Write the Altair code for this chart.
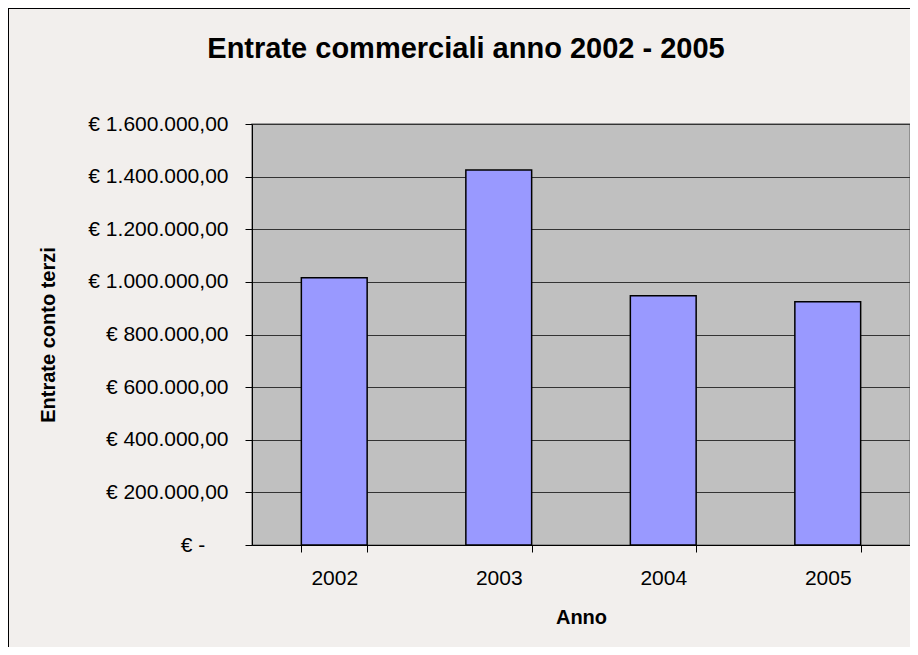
import altair as alt
import pandas as pd

title_text = "Entrate commerciali anno 2002 - 2005"
years = ["2002", "2003", "2004", "2005"]
values = [1016000, 1425000, 947000, 924000]
y_ticks = [0, 200000, 400000, 600000, 800000, 1000000, 1200000, 1400000, 1600000]

df = pd.DataFrame({"Anno": years, "Entrate": values})

W, H = 658, 421
PAD = {"left": 244, "top": 116, "right": 0, "bottom": 102}
FONT = "Liberation Sans"

zero_label = "€ -" + "\u00a0" * 4 + "\u200b"
label_expr = (
    "datum.value == 0 ? '" + zero_label + "' : "
    "'€ ' + replace(replace(replace(format(datum.value, ',.2f'), regexp(',', 'g'), '#'), "
    "regexp('[.]', 'g'), ','), regexp('#', 'g'), '.')"
)

bars = alt.Chart(df).mark_bar(
    color="#9999ff", stroke="#000000", strokeWidth=1.5
).encode(
    x=alt.X(
        "Anno:N",
        sort=years,
        scale=alt.Scale(paddingInner=0.6, paddingOuter=0.3),
        axis=alt.Axis(
            title="Anno",
            labelAngle=0,
            grid=False,
            tickBand="extent",
            tickSize=7,
            tickColor="#000000",
            domainColor="#000000",
            labelFontSize=21,
            labelPadding=15,
            labelColor="#000000",
            labelFont=FONT,
            titleFont=FONT,
            titleFontSize=20,
            titleFontWeight="bold",
            titleColor="#000000",
            titleY=62,
        ),
    ),
    y=alt.Y(
        "Entrate:Q",
        scale=alt.Scale(domain=[0, 1600000], nice=False),
        axis=alt.Axis(
            title="Entrate conto terzi",
            values=y_ticks,
            labelExpr=label_expr,
            grid=True,
            gridColor="#333333",
            gridWidth=1,
            tickSize=7,
            tickColor="#000000",
            domainColor="#000000",
            labelFontSize=21,
            labelPadding=17,
            labelColor="#000000",
            labelFont=FONT,
            titleFont=FONT,
            titleFontSize=20,
            titleFontWeight="bold",
            titleColor="#000000",
            titleX=-194,
            titleY=H / 2,
        ),
    ),
)

title_mark = alt.Chart(pd.DataFrame({"t": [title_text]})).mark_text(
    font=FONT, fontSize=29, fontWeight="bold", color="#000000",
    align="center", baseline="middle"
).encode(
    text="t:N", x=alt.value(214), y=alt.value(-75)
)

border = alt.Chart(pd.DataFrame({"a": [0]})).mark_rule(
    color="#000000", strokeWidth=1
)
border_left = border.encode(
    x=alt.value(-243.5), y=alt.value(-116), y2=alt.value(H + 102)
)
border_top = border.encode(
    x=alt.value(-244), x2=alt.value(W), y=alt.value(-115.5)
)

chart = alt.layer(bars, title_mark, border_left, border_top).properties(
    width=W,
    height=H,
    padding=PAD,
    autosize=alt.AutoSizeParams(type="none"),
    background="#f2efed",
).configure_view(
    fill="#c0c0c0", stroke="#808080", strokeWidth=1.5
)

chart.save("out.html", embed_options={"renderer": "svg", "actions": False})
